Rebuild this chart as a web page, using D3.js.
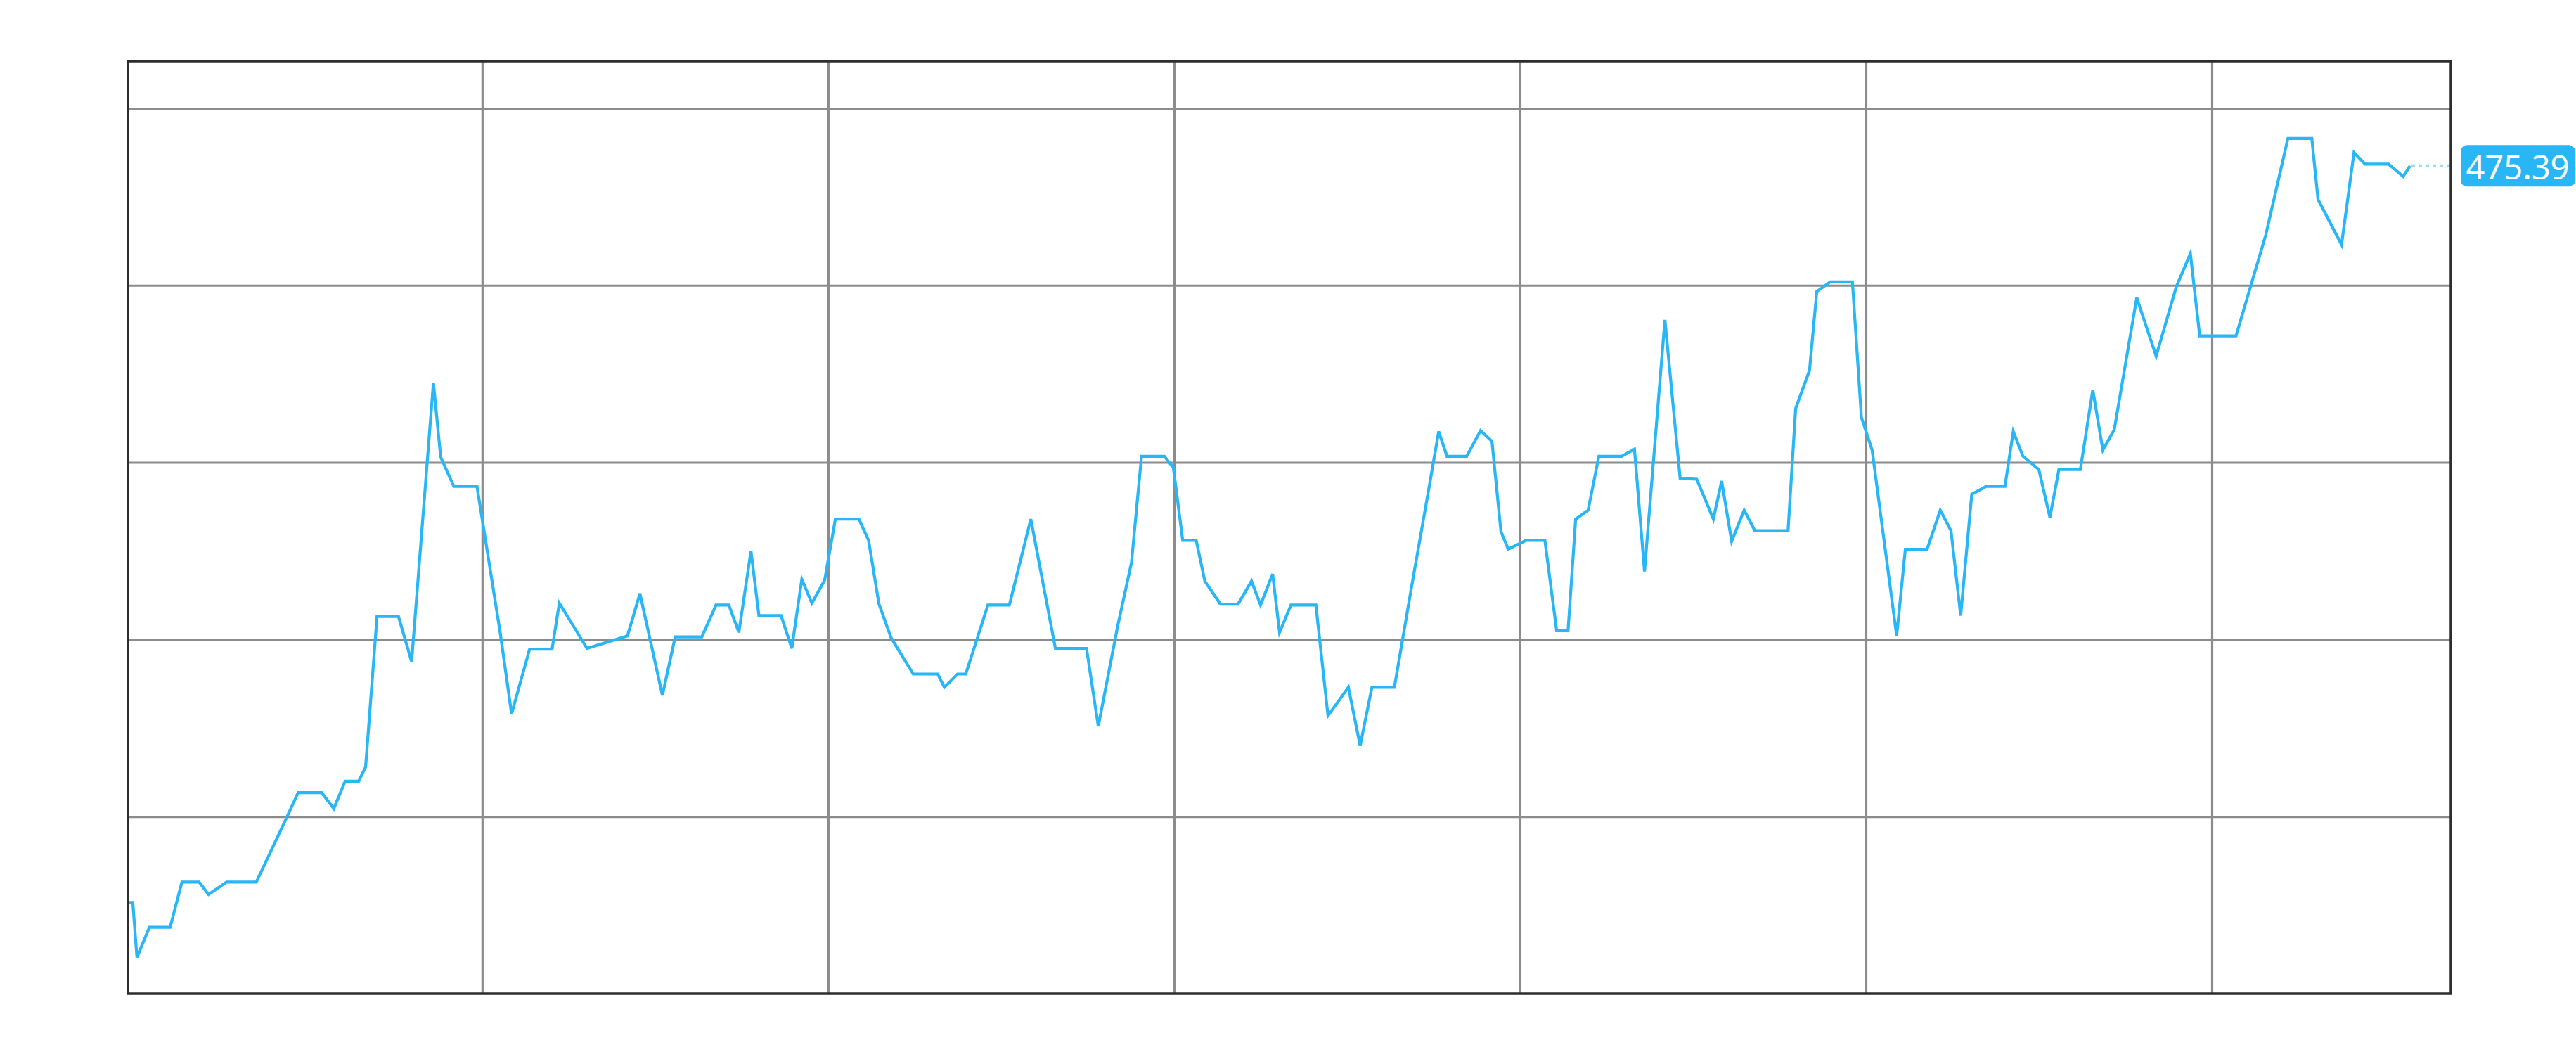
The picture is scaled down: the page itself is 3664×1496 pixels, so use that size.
<!DOCTYPE html>
<html>
<head>
<meta charset="utf-8">
<script src="https://cdn.jsdelivr.net/npm/d3@7"></script>
<style>
  html, body { margin: 0; padding: 0; background: #ffffff; }
  svg { display: block; }
</style>
</head>
<body>
<svg id="chart" width="3664" height="1496"></svg>
<script>
// time positions of the series (arbitrary continuous time units)
const times = [0, 1.4, 2.6, 6.2, 12.2, 15.6, 20.6, 23.3, 28.5, 37.1,
  41.2, 45.9, 49.2, 56.0, 59.5, 62.8, 66.7, 68.7, 72.0, 78.2,
  82.0, 88.3, 90.4, 94.2, 100.9, 107.6, 110.9, 116.1, 122.6, 124.7,
  128.8, 132.7, 144.4, 148.0, 154.5, 158.2, 165.9, 170.0, 173.7, 176.6,
  180.1, 182.4, 188.8, 191.9, 194.8, 197.7, 201.4, 204.5, 211.3, 214.1,
  217.1, 220.6, 227.0, 234.1, 236.0, 239.8, 242.2, 248.6, 254.8, 261.0,
  268.1, 277.1, 280.5, 286.1, 290.1, 293.0, 299.6, 302.2, 304.9, 308.8,
  311.3, 315.8, 320.9, 324.8, 327.4, 330.9, 332.9, 336.2, 343.4, 346.9,
  352.8, 356.2, 359.6, 366.1, 371.0, 376.4, 378.9, 381.3, 387.0, 391.0,
  394.3, 396.9, 399.0, 404.2, 409.6, 413.0, 416.3, 418.5, 422.1, 425.2,
  431.8, 435.5, 438.4, 444.3, 448.7, 453.5, 458.3, 460.7, 463.6, 467.2,
  470.3, 479.9, 482.1, 486.1, 488.2, 492.1, 498.5, 501.1, 504.2, 511.3,
  513.8, 520.1, 523.9, 527.0, 529.8, 533.0, 537.2, 542.6, 545.0, 547.8,
  552.4, 555.6, 558.2, 564.4, 568.0, 570.9, 574.2, 580.7, 586.3, 592.1,
  596.2, 598.9, 609.4, 618.0, 624.4, 631.3, 633.1, 639.9, 643.5, 646.7,
  653.5, 657.7, 659.7];

const values = [467.03, 467.03, 466.41, 466.75, 466.75, 467.26, 467.26, 467.12, 467.26, 467.26,
  467.60, 467.99, 468.27, 468.27, 468.09, 468.40, 468.40, 468.56, 470.26, 470.26,
  469.75, 472.90, 472.06, 471.73, 471.73, 470.08, 469.16, 469.89, 469.89, 470.41,
  470.15, 469.90, 470.04, 470.52, 469.37, 470.03, 470.03, 470.39, 470.39, 470.08,
  471.00, 470.27, 470.27, 469.90, 470.68, 470.41, 470.67, 471.36, 471.36, 471.12,
  470.40, 470.02, 469.61, 469.61, 469.46, 469.61, 469.61, 470.39, 470.39, 471.36,
  469.90, 469.90, 469.02, 470.15, 470.87, 472.07, 472.07, 471.94, 471.12, 471.12,
  470.66, 470.40, 470.40, 470.66, 470.39, 470.74, 470.08, 470.39, 470.39, 469.14,
  469.46, 468.80, 469.46, 469.46, 470.58, 471.78, 472.35, 472.07, 472.07, 472.36,
  472.24, 471.22, 471.02, 471.12, 471.12, 470.10, 470.10, 471.36, 471.46, 472.07,
  472.07, 472.15, 470.77, 473.61, 471.82, 471.81, 471.36, 471.79, 471.11, 471.46,
  471.23, 471.23, 472.61, 473.04, 473.93, 474.04, 474.04, 472.51, 472.14, 470.04,
  471.02, 471.02, 471.46, 471.23, 470.27, 471.64, 471.73, 471.73, 472.35, 472.07,
  471.92, 471.38, 471.92, 471.92, 472.82, 472.14, 472.37, 473.86, 473.20, 473.98,
  474.36, 473.43, 473.43, 474.57, 475.66, 475.66, 474.97, 474.46, 475.50, 475.37,
  475.37, 475.23, 475.35];

// vertical grid positions (time units) and horizontal grid values
const timeTicks = [102.4, 202.4, 302.4, 402.4, 502.4, 602.4];
const valueTicks = [468, 470, 472, 474, 476];
const lastValueLabel = "475.39";

const svg = d3.select("#chart");
const frame = { left: 182, right: 3486, top: 87, bottom: 1413 };

const x = d3.scaleLinear().domain([0, 671.5]).range([frame.left, frame.right]);
const y = d3.scaleLinear().domain([466, 476]).range([frame.bottom, 154]);

const data = times.map((t, i) => ({ t, v: values[i] }));

// grid lines via axes
const gx = svg.append("g")
  .attr("transform", `translate(0,${frame.bottom})`)
  .call(d3.axisBottom(x).tickValues(timeTicks)
    .tickSize(-(frame.bottom - frame.top)).tickFormat(""));
gx.select(".domain").remove();
gx.selectAll(".tick line").attr("stroke", "#8c8c8c").attr("stroke-width", 3.2);

const gy = svg.append("g")
  .attr("transform", `translate(${frame.left},0)`)
  .call(d3.axisLeft(y).tickValues(valueTicks)
    .tickSize(-(frame.right - frame.left)).tickFormat(""));
gy.select(".domain").remove();
gy.selectAll(".tick line").attr("stroke", "#8c8c8c").attr("stroke-width", 3);

// series line
const line = d3.line().x(d => x(d.t)).y(d => y(d.v));
svg.append("path")
  .datum(data)
  .attr("fill", "none")
  .attr("stroke", "#29b6f6")
  .attr("stroke-width", 4.2)
  .attr("stroke-linejoin", "miter")
  .attr("d", line);

// last price line (dotted)
const last = data[data.length - 1];
const py = y(last.v);
svg.append("line")
  .attr("x1", x(last.t) + 2).attr("x2", frame.right)
  .attr("y1", py).attr("y2", py)
  .attr("stroke", "#29b6f6")
  .attr("stroke-opacity", 0.5)
  .attr("stroke-width", 4)
  .attr("stroke-dasharray", "5,5");

// frame
svg.append("rect")
  .attr("x", frame.left).attr("y", frame.top)
  .attr("width", frame.right - frame.left)
  .attr("height", frame.bottom - frame.top)
  .attr("fill", "none")
  .attr("stroke", "#2d2d2d")
  .attr("stroke-width", 3.5);

// price label
const lbl = svg.append("g");
lbl.append("rect")
  .attr("x", 3500).attr("y", py - 29.5)
  .attr("width", 163).attr("height", 59)
  .attr("rx", 9).attr("ry", 9)
  .attr("fill", "#29b6f6");
lbl.append("text")
  .attr("x", 3581).attr("y", py + 1)
  .attr("text-anchor", "middle")
  .attr("dominant-baseline", "central")
  .attr("fill", "#ffffff")
  .attr("font-family", "'Noto Sans', 'DejaVu Sans', sans-serif")
  .attr("font-size", 47)
  .text(lastValueLabel);
</script>
</body>
</html>
